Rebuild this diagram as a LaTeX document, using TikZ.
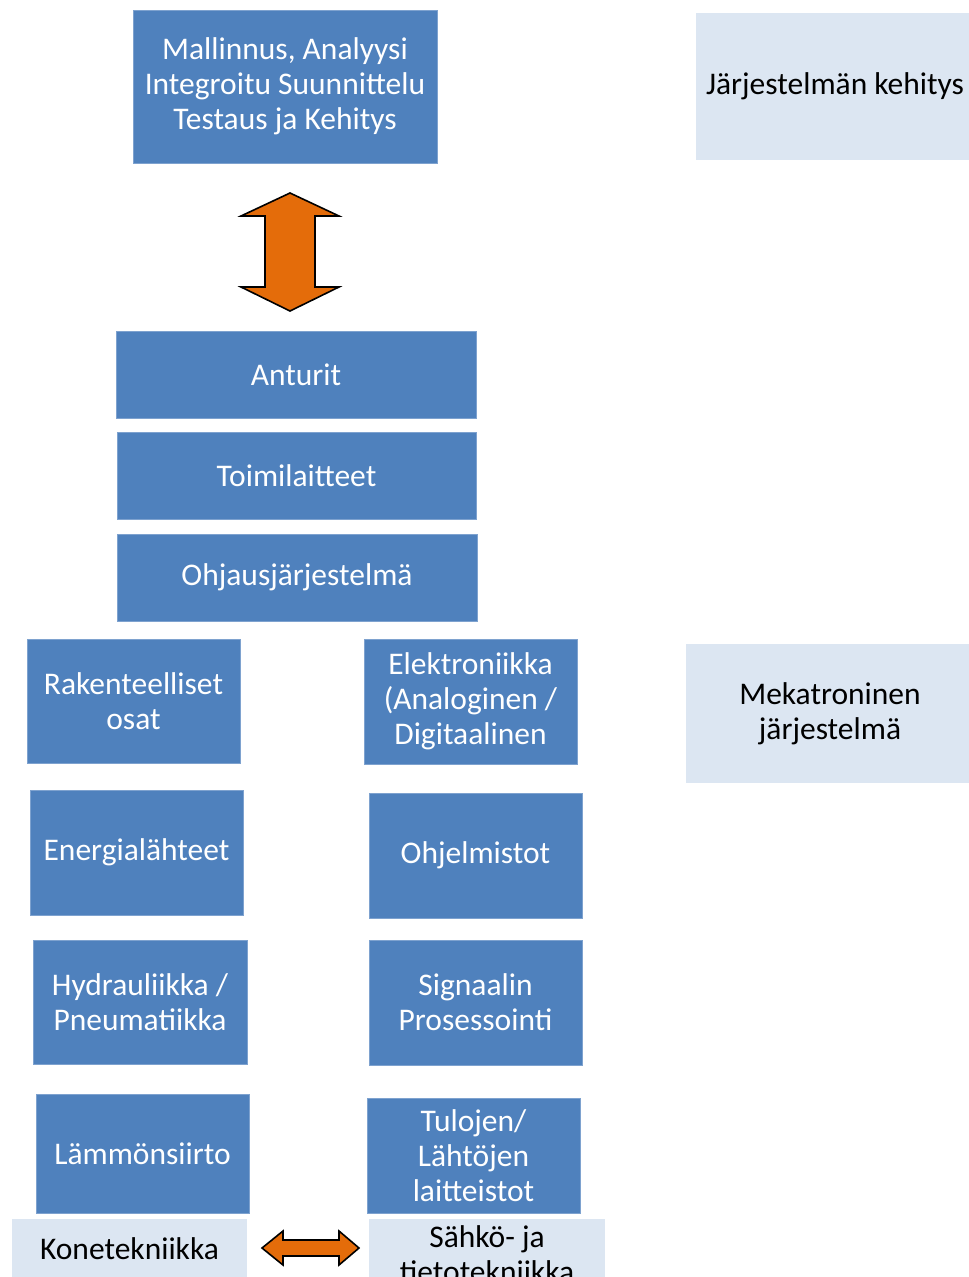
\documentclass[tikz,border=0pt]{standalone}
\usepackage{fontspec}
\setmainfont{Carlito}
\definecolor{boxblue}{HTML}{4F81BD}
\definecolor{boxedge}{HTML}{7EA2CF}
\definecolor{lightbox}{HTML}{DCE6F2}
\definecolor{arroworange}{HTML}{E46C0A}
\tikzset{
  bluebox/.style={fill=boxblue, draw=boxedge, line width=0.8pt, text=white, inner sep=0pt, align=center,
    font=\fontsize{31.5}{35}\selectfont},
  lightbox/.style={fill=lightbox, draw=none, text=black, inner sep=0pt, align=center,
    font=\fontsize{31.5}{35}\selectfont},
  bigarrow/.style={fill=arroworange, draw=black, line width=1.6pt, line join=miter},
}
\newcommand\mybox[7]{%
  \node[#2, minimum width={(#5-#3)*1pt}, minimum height={(#6-#4)*1pt}] (#1) at ({(#3+#5)/2},{(#4+#6)/2}) {#7};}
\begin{document}
\begin{tikzpicture}[x=1pt,y=-1pt]
\useasboundingbox (0,0) rectangle (969,1277);
\clip (0,0) rectangle (969,1277);
\fill[white] (0,0) rectangle (969,1277);
% top row
\mybox{model}{bluebox}{133}{10}{437}{163}{Mallinnus, Analyysi\\Integroitu Suunnittelu\\Testaus ja Kehitys}
\mybox{dev}{lightbox}{696}{13}{974}{160}{Järjestelmän kehitys}
% vertical double arrow
\draw[bigarrow] (290,193) -- (339,216) -- (315,216) -- (315,287) -- (339,287) -- (290,311)
  -- (241,287) -- (265,287) -- (265,216) -- (241,216) -- cycle;
% stacked boxes
\mybox{sens}{bluebox}{116}{331}{476}{418}{Anturit}
\mybox{act}{bluebox}{117}{432}{476}{519}{Toimilaitteet}
\mybox{ctrl}{bluebox}{117}{534}{477}{621}{Ohjausjärjestelmä}
% left column
\mybox{struct}{bluebox}{27}{639}{240}{763}{Rakenteelliset\\osat}
\mybox{energy}{bluebox}{30}{790}{243}{915}{Energialähteet}
\mybox{hydr}{bluebox}{33}{940}{247}{1064}{Hydrauliikka /\\Pneumatiikka}
\mybox{heat}{bluebox}{36}{1094}{249}{1213}{Lämmönsiirto}
% right column
\mybox{elec}{bluebox}{364}{639}{577}{764}{Elektroniikka\\(Analoginen /\\Digitaalinen}
\mybox{soft}{bluebox}{369}{793}{582}{918}{Ohjelmistot}
\mybox{sig}{bluebox}{369}{940}{582}{1065}{Signaalin\\Prosessointi}
\mybox{io}{bluebox}{367}{1098}{580}{1213}{Tulojen/\\Lähtöjen\\laitteistot}
% side label
\mybox{mech}{lightbox}{686}{644}{974}{783}{Mekatroninen\\järjestelmä}
% bottom row
\mybox{mecheng}{lightbox}{12}{1219}{247}{1279}{Konetekniikka}
\mybox{eleceng}{lightbox}{369}{1219}{605}{1290}{Sähkö- ja\\tietotekniikka}
% horizontal double arrow
\draw[bigarrow] (262,1248) -- (283,1231) -- (283,1240) -- (339,1240) -- (339,1231) -- (359,1248)
  -- (339,1265) -- (339,1256) -- (283,1256) -- (283,1265) -- cycle;
\end{tikzpicture}
\end{document}
